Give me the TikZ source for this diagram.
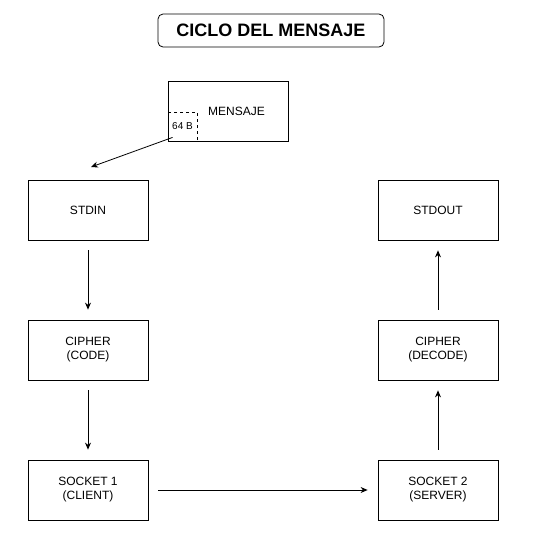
\documentclass[tikz,border=0pt]{standalone}
\usepackage{fontspec}
\setmainfont{Liberation Sans}
\usetikzlibrary{arrows.meta, calc}

\tikzset{
    caja/.style={draw, line width=0.8pt, minimum width=120, minimum height=60, align=center, inner sep=0, font=\fontsize{12}{14}\selectfont},
    flecha/.style={line width=0.8pt, -{Stealth[length=7pt,width=6pt]}, shorten >=10pt, shorten <=10pt},
}

\begin{document}
\begin{tikzpicture}[x=1pt, y=-1pt]
            \useasboundingbox (0,0) rectangle (534,542);

            \node[draw, line width=0.8pt, rounded corners=5pt, minimum width=226, minimum height=33, inner sep=0, font=\fontsize{18}{20}\selectfont\bfseries] (titulo) at (271,30.5) {CICLO DEL MENSAJE};

            \node[caja] (mensaje) at (228,111) {\hspace*{17pt}MENSAJE};
            \node[draw, dashed, line width=0.8pt, minimum size=29, inner sep=0, font=\fontsize{10}{12}\selectfont] (bloque) at (182.5,126.5) {64 B};

            \foreach \nombre/\x/\y/\texto in {stdin/88/210/STDIN, code/88/350/CIPHER\\(CODE), cliente/88/490/SOCKET 1\\(CLIENT), stdout/438/210/STDOUT, decode/438/350/CIPHER\\(DECODE), servidor/438/490/SOCKET 2\\(SERVER)} {
                \node[caja] (\nombre) at (\x,\y) {\texto};
            }

            \coordinate (llegada) at (91,167);
            \draw[line width=0.8pt, -{Stealth[length=7pt,width=6pt]}] ([shift={(5,-4)}]bloque.south west) -- (llegada);

            \draw[flecha] (stdin) -- (code);
            \draw[flecha] (code) -- (cliente);
            \draw[flecha] (cliente) -- (servidor);
            \draw[flecha] (servidor) -- (decode);
            \draw[flecha] (decode) -- (stdout);
        \end{tikzpicture}
\end{document}
